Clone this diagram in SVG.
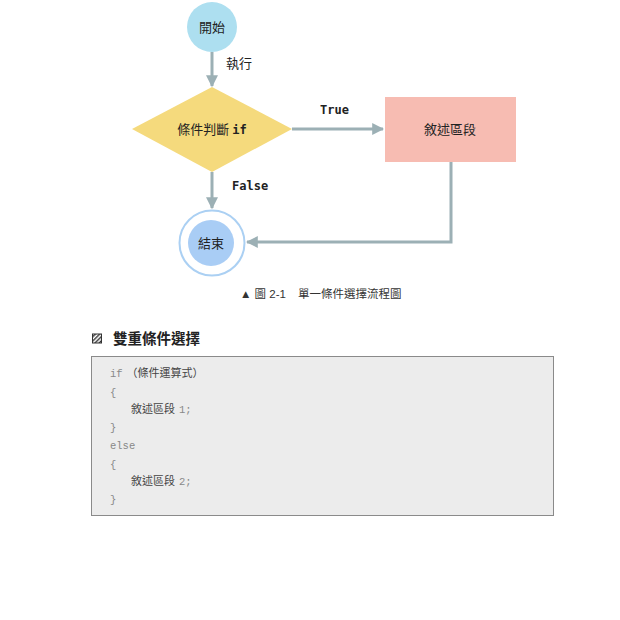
<svg xmlns="http://www.w3.org/2000/svg" width="620" height="620" viewBox="0 0 620 620">
<defs>
<marker id="arr" viewBox="0 0 10 10" refX="9" refY="5" markerWidth="4" markerHeight="4" orient="auto" markerUnits="strokeWidth">
<path d="M0,0 L10,5 L0,10 Z" fill="#9cb0b5"/>
</marker>
<pattern id="hatch" width="3" height="3" patternUnits="userSpaceOnUse" patternTransform="rotate(45)">
<rect width="3" height="3" fill="#fff"/>
<rect width="1.4" height="3" fill="#333"/>
</pattern>
<style>
.lbl{font-family:"Noto Sans CJK TC","Noto Sans CJK SC",sans-serif;font-size:13px;fill:#222;}
.mono{font-family:"DejaVu Sans Mono","Noto Sans CJK TC",monospace;font-size:12px;font-weight:bold;fill:#222;}
.conn{fill:none;stroke:#9cb0b5;stroke-width:3;}
.code{font-family:"Liberation Mono","Noto Sans CJK TC",monospace;font-size:10.5px;fill:#888;}
.codecjk{font-family:"Noto Sans CJK TC",serif;font-size:11px;fill:#444;}
</style>
</defs>
<rect width="620" height="620" fill="#fff"/>
<g id="connectors">
<line class="conn" x1="212" y1="52" x2="212" y2="86" marker-end="url(#arr)"/>
<line class="conn" x1="292" y1="129" x2="383" y2="129" marker-end="url(#arr)"/>
<line class="conn" x1="212" y1="172" x2="212" y2="208" marker-end="url(#arr)"/>
<polyline class="conn" points="451,162 451,242 247,242" marker-end="url(#arr)"/>
<text class="lbl" x="226" y="68">執行</text>
<text class="mono" x="320" y="114">True</text>
<text class="mono" x="232" y="190">False</text>
</g>
<g id="start">
<circle cx="212" cy="27" r="25" fill="#addff0"/>
<text class="lbl" x="212" y="31.5" text-anchor="middle">開始</text>
</g>
<g id="decision">
<polygon points="212,87 292,129 212,172 132,129" fill="#f5da7d"/>
<text x="212" y="134" text-anchor="middle"><tspan class="lbl">條件判斷 </tspan><tspan class="mono">if</tspan></text>
</g>
<g id="block">
<rect x="385" y="97" width="131" height="65" fill="#f7bcb2"/>
<text class="lbl" x="450" y="134" text-anchor="middle">敘述區段</text>
</g>
<g id="end">
<circle cx="212" cy="243" r="32.5" fill="#fff" stroke="#abd0f3" stroke-width="2"/>
<circle cx="211" cy="243" r="23" fill="#a9cdf5"/>
<text class="lbl" x="211" y="247.5" text-anchor="middle">結束</text>
</g>
<text x="240" y="298" font-family="'Liberation Sans','Noto Sans CJK TC',sans-serif" font-size="11.5" fill="#333">▲ 圖 2-1<tspan dx="12">單一條件選擇流程圖</tspan></text>
<rect x="92.5" y="334" width="9" height="9" fill="url(#hatch)" stroke="#333" stroke-width="1"/>
<text x="113" y="344" font-family="'Noto Sans CJK TC',sans-serif" font-size="14.5" font-weight="bold" fill="#222">雙重條件選擇</text>
<rect x="91.5" y="356.5" width="462" height="159" fill="#ececec" stroke="#8a8a8a" stroke-width="1"/>
<text x="110" y="377"><tspan class="code">if</tspan><tspan class="codecjk" dx="4">（條件運算式）</tspan></text>
<text class="code" x="110" y="396">{</text>
<text x="131" y="413"><tspan class="codecjk">敘述區段</tspan><tspan class="code" dx="4">1;</tspan></text>
<text class="code" x="110" y="431">}</text>
<text class="code" x="110" y="449">else</text>
<text class="code" x="110" y="468">{</text>
<text x="131" y="485"><tspan class="codecjk">敘述區段</tspan><tspan class="code" dx="4">2;</tspan></text>
<text class="code" x="110" y="503">}</text>
</svg>
